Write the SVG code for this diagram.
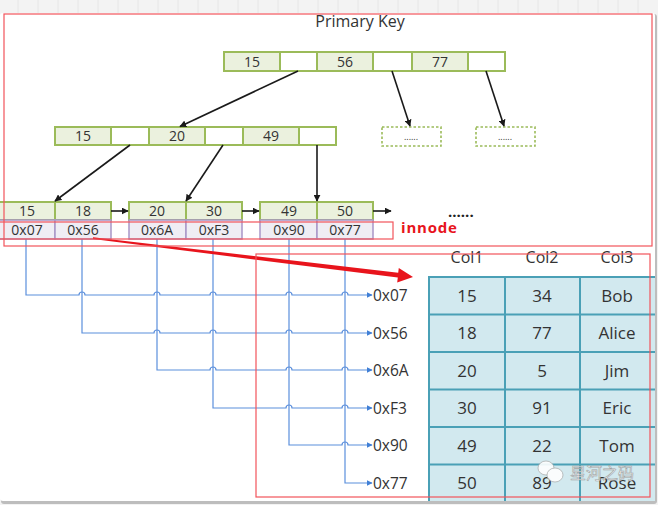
<svg xmlns="http://www.w3.org/2000/svg" width="658" height="505" viewBox="0 0 658 505">
<style>
.t{font-family:"Open Sans","Noto Sans","Liberation Sans",sans-serif;fill:#333;text-anchor:middle}
.g{fill:#ebf1de;stroke:#9bbb59;stroke-width:2}
.w{fill:#fff;stroke:#9bbb59;stroke-width:2}
.p{fill:#efedf4;stroke:#a996c8;stroke-width:1.5}
.blk{stroke:#1a1a1a;stroke-width:1.6;fill:none;marker-end:url(#ah)}
.blue{stroke:#5b8fdc;stroke-width:1.2;fill:none;marker-end:url(#bh)}
.red{fill:none;stroke:#f2545b;stroke-width:1.2}
.cell{font-size:14px}
.tab{font-size:17px}
.lbl{font-family:"Open Sans","Noto Sans","Liberation Sans",sans-serif;fill:#333;font-size:15.5px}
</style>
<defs>
<marker id="ah" viewBox="0 0 10 10" refX="9" refY="5" markerWidth="7" markerHeight="7" markerUnits="userSpaceOnUse" orient="auto"><path d="M0 0 L10 5 L0 10 z" fill="#1a1a1a"/></marker>
<marker id="bh" viewBox="0 0 10 10" refX="9" refY="5" markerWidth="6" markerHeight="6" markerUnits="userSpaceOnUse" orient="auto"><path d="M0 0 L10 5 L0 10 z" fill="#3f7fd6"/></marker>
<clipPath id="card"><rect x="0" y="13" width="655" height="488"/></clipPath>
</defs>
<!-- background -->
<rect x="0" y="0" width="658" height="505" fill="#f3f3f3"/>
<g stroke="#e6e6e6" stroke-width="1">
<path d="M18 0V13M38 0V13M58 0V13M78 0V13M98 0V13M118 0V13M138 0V13M158 0V13M178 0V13M198 0V13M218 0V13M238 0V13M258 0V13M278 0V13M298 0V13M318 0V13M338 0V13M358 0V13M378 0V13M398 0V13M418 0V13M438 0V13M458 0V13M478 0V13M498 0V13M518 0V13M538 0V13M558 0V13M578 0V13M598 0V13M618 0V13M638 0V13"/>
</g>
<rect x="1" y="14" width="656" height="490" rx="3" fill="#bdbdbd"/>
<rect x="0" y="13" width="655" height="488" rx="3" fill="#fff"/>

<g clip-path="url(#card)">
<text class="t" x="360" y="27" font-size="16">Primary Key</text>

<!-- root node -->
<g id="root">
<rect class="g" x="224" y="52" width="56" height="19"/>
<rect class="w" x="280" y="52" width="37" height="19"/>
<rect class="g" x="317" y="52" width="56" height="19"/>
<rect class="w" x="373" y="52" width="39" height="19"/>
<rect class="g" x="412" y="52" width="56" height="19"/>
<rect class="w" x="468" y="52" width="37" height="19"/>
<text class="t cell" x="252" y="66.5">15</text>
<text class="t cell" x="345" y="66.5">56</text>
<text class="t cell" x="440" y="66.5">77</text>
</g>

<!-- level 2 -->
<g id="inner">
<rect class="g" x="55" y="127" width="56" height="18"/>
<rect class="w" x="111" y="127" width="38" height="18"/>
<rect class="g" x="149" y="127" width="56" height="18"/>
<rect class="w" x="205" y="127" width="38" height="18"/>
<rect class="g" x="243" y="127" width="56" height="18"/>
<rect class="w" x="299" y="127" width="37" height="18"/>
<text class="t cell" x="83" y="141">15</text>
<text class="t cell" x="177" y="141">20</text>
<text class="t cell" x="271" y="141">49</text>
</g>
<g id="dash1">
<rect x="382" y="127" width="59" height="19" fill="#fff" stroke="#9bbb59" stroke-width="1.6" stroke-dasharray="2.5 2"/>
<text class="t" x="411" y="140" font-size="9">......</text>
</g>
<g id="dash2">
<rect x="476" y="127" width="59" height="19" fill="#fff" stroke="#9bbb59" stroke-width="1.6" stroke-dasharray="2.5 2"/>
<text class="t" x="505" y="140" font-size="9">......</text>
</g>

<!-- leaves -->
<g id="leaf1">
<rect class="g" x="-2" y="202" width="57" height="18"/>
<rect class="g" x="55" y="202" width="56" height="18"/>
<rect class="p" x="-2" y="220" width="57" height="19"/>
<rect class="p" x="55" y="220" width="56" height="19"/>
<text class="t cell" x="27" y="216">15</text>
<text class="t cell" x="83" y="216">18</text>
<text class="t cell" x="27" y="234.5">0x07</text>
<text class="t cell" x="83" y="234.5">0x56</text>
</g>
<g id="leaf2">
<rect class="g" x="129" y="202" width="57" height="18"/>
<rect class="g" x="186" y="202" width="56" height="18"/>
<rect class="p" x="129" y="220" width="57" height="19"/>
<rect class="p" x="186" y="220" width="56" height="19"/>
<text class="t cell" x="157" y="216">20</text>
<text class="t cell" x="214" y="216">30</text>
<text class="t cell" x="157" y="234.5">0x6A</text>
<text class="t cell" x="214" y="234.5">0xF3</text>
</g>
<g id="leaf3">
<rect class="g" x="260" y="202" width="57" height="18"/>
<rect class="g" x="317" y="202" width="56" height="18"/>
<rect class="p" x="260" y="220" width="57" height="19"/>
<rect class="p" x="317" y="220" width="56" height="19"/>
<text class="t cell" x="289" y="216">49</text>
<text class="t cell" x="345" y="216">50</text>
<text class="t cell" x="289" y="234.5">0x90</text>
<text class="t cell" x="345" y="234.5">0x77</text>
</g>
<text x="448" y="217" font-family="Open Sans, Liberation Sans, sans-serif" font-size="15" font-weight="bold" fill="#222">......</text>

<!-- table -->
<g id="table">
<rect x="429" y="277" width="230" height="230" fill="#d2e9ef" stroke="#4aa0b6" stroke-width="2"/>
<path d="M505 277V505M580 277V505M429 314.5H659M429 352H659M429 389.5H659M429 427H659M429 464.5H659" stroke="#4aa0b6" stroke-width="2"/>
<text class="t" x="467" y="263" font-size="16">Col1</text>
<text class="t" x="542" y="263" font-size="16">Col2</text>
<text class="t" x="617" y="263" font-size="16">Col3</text>
<g class="tab">
<text class="t" x="467" y="301.5">15</text><text class="t" x="542" y="301.5">34</text><text class="t" x="617" y="301.5">Bob</text>
<text class="t" x="467" y="339">18</text><text class="t" x="542" y="339">77</text><text class="t" x="617" y="339">Alice</text>
<text class="t" x="467" y="376.5">20</text><text class="t" x="542" y="376.5">5</text><text class="t" x="617" y="376.5">Jim</text>
<text class="t" x="467" y="414">30</text><text class="t" x="542" y="414">91</text><text class="t" x="617" y="414">Eric</text>
<text class="t" x="467" y="451.5">49</text><text class="t" x="542" y="451.5">22</text><text class="t" x="617" y="451.5">Tom</text>
<text class="t" x="467" y="489">50</text><text class="t" x="542" y="489">89</text><text class="t" x="617" y="489">Rose</text>
</g>
</g>

<!-- row pointer labels -->
<g>
<text class="lbl" x="373" y="300.5">0x07</text>
<text class="lbl" x="373" y="338.5">0x56</text>
<text class="lbl" x="373" y="375.5">0x6A</text>
<text class="lbl" x="373" y="413.5">0xF3</text>
<text class="lbl" x="373" y="450.5">0x90</text>
<text class="lbl" x="373" y="488.5">0x77</text>
</g>

<!-- connectors -->
<g id="connectors">
<path class="blk" d="M298 71L180 126.5"/>
<path class="blk" d="M392 71L410 126"/>
<path class="blk" d="M486 71L504 126"/>
<path class="blk" d="M130 145L55 201"/>
<path class="blk" d="M223 145L186 201"/>
<path class="blk" d="M317 145V201"/>
<path class="blk" d="M111 211H128"/>
<path class="blk" d="M242 211H259"/>
<path class="blk" d="M373 211H391"/>
<path class="blue" d="M26 239V295H79A3 3 0 0 1 85 295H154A3 3 0 0 1 160 295H210A3 3 0 0 1 216 295H286A3 3 0 0 1 292 295H342A3 3 0 0 1 348 295H372"/>
<path class="blue" d="M82 239V333H154A3 3 0 0 1 160 333H210A3 3 0 0 1 216 333H286A3 3 0 0 1 292 333H342A3 3 0 0 1 348 333H372"/>
<path class="blue" d="M157 239V370H210A3 3 0 0 1 216 370H286A3 3 0 0 1 292 370H342A3 3 0 0 1 348 370H372"/>
<path class="blue" d="M213 239V408H286A3 3 0 0 1 292 408H342A3 3 0 0 1 348 408H372"/>
<path class="blue" d="M289 239V445H342A3 3 0 0 1 348 445H372"/>
<path class="blue" d="M345 239V483H372"/>
<polygon points="93,237.3 398.2,272.8 398.8,268.0 413,277 397.2,282.4 397.8,277.6 93,239" fill="#e8141c"/>
</g>

<!-- red frames -->
<rect class="red" x="4" y="14" width="648" height="232"/>
<rect class="red" x="-2" y="222" width="395" height="17"/>
<rect class="red" x="256" y="254" width="394" height="243"/>
<text x="401" y="233" font-family="Open Sans, Liberation Sans, sans-serif" font-size="15" font-weight="bold" fill="#e8141c" letter-spacing="0.8">innode</text>

<!-- watermark -->
<g opacity="0.9">
<ellipse cx="546" cy="468" rx="8" ry="7" fill="#fff" stroke="#aaa" stroke-width="0.8"/>
<ellipse cx="555" cy="475" rx="8" ry="7" fill="#fff" stroke="#aaa" stroke-width="0.8"/>
<text x="570" y="479" font-family="Noto Sans CJK SC, sans-serif" font-size="16" fill="#fff" stroke="#999" stroke-width="0.6">星河之码</text>
</g>
</g>
</svg>
